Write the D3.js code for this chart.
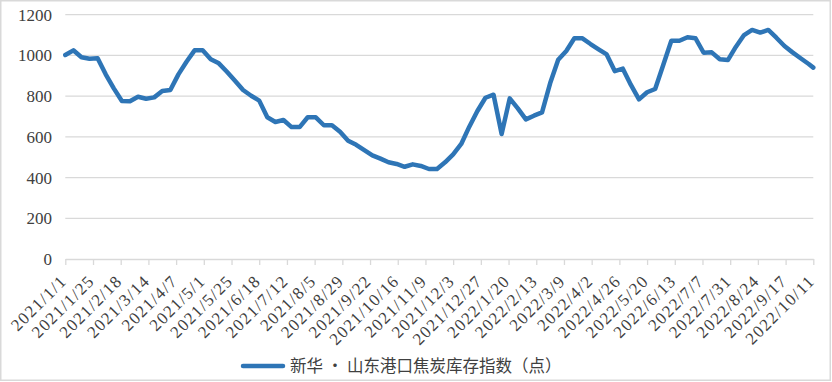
<!DOCTYPE html>
<html><head><meta charset="utf-8">
<script src="https://cdn.jsdelivr.net/npm/d3@7"></script>
<style>body{margin:0;background:#fff}svg{display:block}</style>
</head><body>
<svg id="c" width="832" height="382"></svg>
<script>
const seriesName = "新华 • 山东港口焦炭库存指数（点）";
const tickLabels = ["2021/1/1","2021/1/25","2021/2/18","2021/3/14","2021/4/7","2021/5/1","2021/5/25","2021/6/18","2021/7/12","2021/8/5","2021/8/29","2021/9/22","2021/10/16","2021/11/9","2021/12/3","2021/12/27","2022/1/20","2022/2/13","2022/3/9","2022/4/2","2022/4/26","2022/5/20","2022/6/13","2022/7/7","2022/7/31","2022/8/24","2022/9/17","2022/10/11"];
const yTicks = [0,200,400,600,800,1000,1200];
const firstDate = "2021/1/1";
const lastDate = "2022/10/11";
const values = [1002,1025,991,984,986,907,838,776,775,797,
787,794,825,830,907,969,1025,1025,981,961,
920,876,830,802,778,696,673,683,648,648,
696,696,657,657,625,581,561,535,509,493,
475,467,453,465,457,442,442,475,514,565,
650,727,792,807,614,789,740,686,704,720,
863,979,1022,1084,1084,1056,1030,1005,923,935,
855,784,819,835,953,1072,1072,1089,1084,1013,
1015,981,977,1043,1100,1125,1112,1125,1087,1046,
1015,986,958,940];

const parse = d3.timeParse("%Y/%-m/%-d");
const start = parse(firstDate), end = parse(lastDate);
// weekly observations, last one on the final date
const dates = values.map((v,i) => i < values.length-1 ? d3.timeDay.offset(start, 7*i) : end);
const data = values.map((v,i) => ({date: dates[i], value: v}));

const svg = d3.select("#c");
const L = 65.3, R = 813.3, T = 14.7, B = 259;
const x = d3.scaleTime().domain([start, end]).range([L, R]);
const y = d3.scaleLinear().domain([0, 1200]).range([B, T]);

svg.append("rect").attr("x",0.75).attr("y",0.75).attr("width",829.5).attr("height",379.5)
  .attr("fill","#fff").attr("stroke","#d9d9d9").attr("stroke-width",1.5);

// gridlines
svg.append("g").selectAll("line").data(yTicks.filter(d=>d>0)).join("line")
  .attr("x1",L).attr("x2",R).attr("y1",d=>y(d)).attr("y2",d=>y(d))
  .attr("stroke","#d9d9d9").attr("stroke-width",1.3);

// y labels
svg.append("g").selectAll("text").data(yTicks).join("text")
  .attr("x",52).attr("y",d=>y(d)).attr("dy","0.35em").attr("text-anchor","end")
  .attr("font-family","Liberation Serif").attr("font-size",17).attr("fill","#404040")
  .text(d=>d);

// x axis
const tickDates = tickLabels.map(parse);
const xAxis = d3.axisBottom(x).tickValues(tickDates).tickSize(6).tickSizeOuter(0).tickFormat((d,i)=>tickLabels[i]);
const gx = svg.append("g").attr("transform",`translate(0,${B})`).call(xAxis);
gx.select(".domain").attr("stroke","#d9d9d9").attr("stroke-width",1.3);
gx.selectAll(".tick line").attr("stroke","#d9d9d9").attr("stroke-width",1.3);
gx.selectAll(".tick text")
  .attr("font-family","Liberation Serif").attr("font-size",17).attr("fill","#404040")
  .attr("letter-spacing","1.3px")
  .attr("text-anchor","end").attr("dy",null).attr("y",null)
  .attr("transform","translate(2,23) rotate(-45)");

// line
const line = d3.line().x(d=>x(d.date)).y(d=>y(d.value));
svg.append("path").datum(data).attr("d",line).attr("fill","none")
  .attr("stroke","#2e75b6").attr("stroke-width",4.5)
  .attr("stroke-linejoin","round").attr("stroke-linecap","round");

// legend
const lg = svg.append("g");
lg.append("line").attr("x1",243).attr("x2",283).attr("y1",366).attr("y2",366)
  .attr("stroke","#2e75b6").attr("stroke-width",4.5).attr("stroke-linecap","round");
lg.append("text").attr("x",290).attr("y",366).attr("dy","0.36em")
  .attr("font-family","Noto Sans CJK SC").attr("font-size",16.5).attr("fill","#404040")
  .text(seriesName);
</script>
</body></html>
